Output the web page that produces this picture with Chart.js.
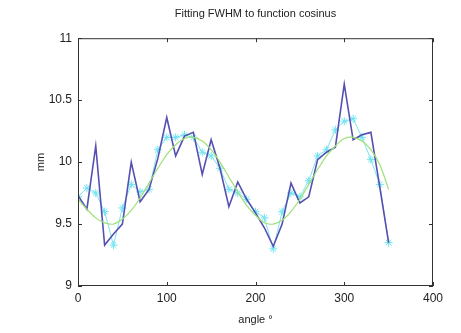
<!DOCTYPE html>
<html>
<head>
<meta charset="utf-8">
<script src="https://cdn.jsdelivr.net/npm/chart.js@4"></script>
<style>
html,body{margin:0;padding:0;background:#fff;}
#wrap{width:461px;height:333px;}
</style>
</head>
<body>
<div id="wrap"><canvas id="c" width="461" height="333"></canvas></div>
<script>
const angles = [0,10,20,30,40,50,60,70,80,90,100,110,120,130,140,150,160,170,180,190,200,210,220,230,240,250,260,270,280,290,300,310,320,330,340,350];
const measured = [9.73,9.62,10.13,9.33,9.42,9.50,10.00,9.68,9.78,10.03,10.36,10.05,10.21,10.24,9.90,10.18,9.95,9.64,9.84,9.70,9.59,9.47,9.32,9.50,9.83,9.67,9.72,10.02,10.08,10.12,10.63,10.18,10.22,10.24,9.80,9.35];
const smoothed = [9.72,9.79,9.75,9.60,9.33,9.63,9.82,9.76,9.78,10.10,10.20,10.20,10.22,10.20,10.08,10.05,9.95,9.78,9.75,9.70,9.60,9.55,9.30,9.60,9.75,9.72,9.85,10.05,10.10,10.26,10.33,10.35,10.20,10.02,9.82,9.35];
const cosFit = [9.70,9.62,9.55,9.51,9.50,9.54,9.61,9.71,9.83,9.95,10.06,10.14,10.19,10.20,10.17,10.10,10.00,9.88,9.76,9.65,9.57,9.51,9.50,9.53,9.60,9.70,9.82,9.94,10.05,10.13,10.19,10.20,10.17,10.10,9.98,9.78];
const xTicks = [0,100,200,300,400];
const yTicks = [9,9.5,10,10.5,11];

const pts = arr => angles.map((a,i)=>({x:a,y:arr[i]}));
const FONT = "'Liberation Sans', Arial, sans-serif";

const boxTicks = {
  id:'boxTicks',
  afterDatasetsDraw(chart){
    const {ctx, chartArea:a, scales} = chart;
    ctx.save();
    ctx.strokeStyle = '#333';
    ctx.lineWidth = 1;
    ctx.strokeRect(a.left+0.5, a.top+0.5, a.right-a.left-1, a.bottom-a.top-1);
    const L = 4;
    ctx.beginPath();
    xTicks.forEach(v=>{
      const px = Math.round(scales.x.getPixelForValue(v))+0.5;
      ctx.moveTo(px,a.bottom); ctx.lineTo(px,a.bottom-L);
      ctx.moveTo(px,a.top); ctx.lineTo(px,a.top+L);
    });
    yTicks.forEach(v=>{
      const py = Math.round(scales.y.getPixelForValue(v))+0.5;
      ctx.moveTo(a.left,py); ctx.lineTo(a.left+L,py);
      ctx.moveTo(a.right,py); ctx.lineTo(a.right-L,py);
    });
    ctx.stroke();
    ctx.restore();
  }
};

new Chart(document.getElementById('c'), {
  type:'line',
  data:{
    datasets:[
      {label:'fit', data:pts(cosFit), borderColor:'#9ee07a', borderWidth:1.2, pointRadius:0, tension:0.3, fill:false},
      {label:'data', data:pts(measured), borderColor:'#5650b2', borderWidth:1.6, pointRadius:0, tension:0, fill:false},
      {label:'smooth', data:pts(smoothed), borderColor:'rgba(90,220,235,0.8)', borderWidth:1, pointStyle:'star', pointRadius:4, pointBorderColor:'#6fe3f0', pointBorderWidth:1, pointBackgroundColor:'#6fe3f0', tension:0, fill:false}
    ]
  },
  options:{
    responsive:false,
    animation:false,
    devicePixelRatio:1,
    layout:{padding:{left:0,right:28,top:0,bottom:0}},
    plugins:{
      legend:{display:false},
      tooltip:{enabled:false},
      title:{display:true, text:'Fitting FWHM to function cosinus', fullSize:false, color:'#222',
        font:{family:FONT,size:11,weight:'normal'}, padding:{top:7,bottom:18}}
    },
    scales:{
      x:{type:'linear', min:0, max:400,
        afterFit(s){s.height=47;},
        afterBuildTicks(s){s.ticks = xTicks.map(v=>({value:v}));},
        grid:{display:false, drawTicks:false},
        border:{display:false},
        ticks:{color:'#222', padding:5, maxRotation:0, font:{family:FONT,size:12}},
        title:{display:true, text:'angle °', color:'#222', font:{family:FONT,size:11}, padding:{top:0,bottom:6}}
      },
      y:{type:'linear', min:9, max:11,
        afterFit(s){s.width=78;},
        afterBuildTicks(s){s.ticks = yTicks.map(v=>({value:v}));},
        grid:{display:false, drawTicks:false},
        border:{display:false},
        ticks:{color:'#222', padding:6, font:{family:FONT,size:12}, callback:v=>String(v)},
        title:{display:true, text:'mm', color:'#222', font:{family:FONT,size:11}, padding:{top:34,bottom:0}}
      }
    }
  },
  plugins:[boxTicks]
});
</script>
</body>
</html>
